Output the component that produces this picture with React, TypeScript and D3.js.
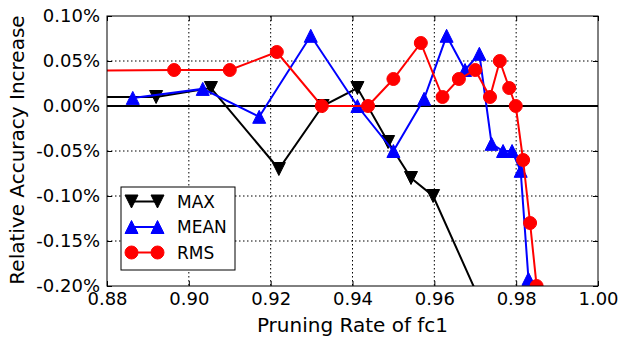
import { useEffect, useRef } from 'react'
import * as d3 from 'd3'

// pruning rate of fc1 (x) and relative accuracy increase in % (y)
const maxRate = [0.87, 0.892, 0.9054, 0.922, 0.9327, 0.9412, 0.9487, 0.9543, 0.9597, 0.9745]
const maxGain = [0.01, 0.01, 0.02, -0.07, 0.0, 0.02, -0.04, -0.08, -0.10, -0.25]

const meanRate = [0.8863, 0.9034, 0.9172, 0.9298, 0.9412, 0.95, 0.9575, 0.963, 0.9675, 0.971, 0.974, 0.9768, 0.979, 0.9811, 0.983]
const meanGain = [0.009, 0.019, -0.012, 0.078, 0.0, -0.05, 0.008, 0.078, 0.04, 0.058, -0.042, -0.05, -0.05, -0.072, -0.192]

const rmsRate = [0.87, 0.8964, 0.91, 0.9215, 0.9325, 0.9438, 0.95, 0.9567, 0.962, 0.966, 0.97, 0.9736, 0.976, 0.9783, 0.9799, 0.9817, 0.9834, 0.985]
const rmsGain = [0.039, 0.04, 0.04, 0.06, 0.0, 0.0, 0.03, 0.07, 0.01, 0.03, 0.04, 0.01, 0.05, 0.02, 0.0, -0.06, -0.13, -0.20]

const xTicks = [0.88, 0.90, 0.92, 0.94, 0.96, 0.98, 1.00]
const yTicks = [0.10, 0.05, 0.0, -0.05, -0.10, -0.15, -0.20]

const seriesNames = ['MAX', 'MEAN', 'RMS']
const seriesColors = ['#000000', '#0000ff', '#ff0000']
const seriesMarkers = ['down', 'up', 'circle']

const W = 618
const H = 339
const FONT = 'DejaVu Sans, sans-serif'

function markerPath(kind: string, s: number) {
  const h = s / 2
  if (kind === 'down') return `M0,${h}L${-h},${-h}L${h},${-h}Z`
  if (kind === 'up') return `M0,${-h}L${-h},${h}L${h},${h}Z`
  return d3.symbol(d3.symbolCircle, Math.PI * h * h)() || ''
}

export default function App() {
  const svgRef = useRef<SVGSVGElement>(null)

  useEffect(() => {
    document.body.style.margin = '0'
    if (!svgRef.current) return
    const svg = d3.select(svgRef.current)
    svg.selectAll('*').remove()

    const margin = { top: 16, right: 20, bottom: 53, left: 107 }
    const innerW = W - margin.left - margin.right
    const innerH = H - margin.top - margin.bottom

    const x = d3.scaleLinear().domain([0.88, 1.0]).range([0, innerW])
    const y = d3.scaleLinear().domain([-0.20, 0.10]).range([innerH, 0])

    const g = svg.append('g').attr('transform', `translate(${margin.left},${margin.top})`)

    g.append('clipPath').attr('id', 'plot-clip')
      .append('rect').attr('width', innerW).attr('height', innerH)

    // grid
    g.selectAll('.vgrid')
      .data(xTicks.slice(1, -1))
      .enter().append('line')
      .attr('x1', d => x(d)).attr('x2', d => x(d))
      .attr('y1', 0).attr('y2', innerH)
      .attr('stroke', '#000').attr('stroke-width', 1)
      .attr('stroke-dasharray', '1.5,2.5')
    g.selectAll('.hgrid')
      .data(yTicks.slice(1, -1))
      .enter().append('line')
      .attr('y1', d => y(d)).attr('y2', d => y(d))
      .attr('x1', 0).attr('x2', innerW)
      .attr('stroke', '#000').attr('stroke-width', 1)
      .attr('stroke-dasharray', '1.5,2.5')

    // axes (ticks pointing inward)
    const fmt = (d: d3.NumberValue) => (+d).toFixed(2) + '%'
    const xAxis = g.append('g').attr('transform', `translate(0,${innerH})`)
      .call(d3.axisBottom(x).tickValues(xTicks).tickFormat(d => (+d).toFixed(2)).tickSize(-5).tickPadding(6))
    const yAxis = g.append('g')
      .call(d3.axisLeft(y).tickValues(yTicks).tickFormat(fmt).tickSize(-5).tickPadding(7))
    const topAxis = g.append('g')
      .call(d3.axisTop(x).tickValues(xTicks).tickFormat(() => '').tickSize(-5))
    const rightAxis = g.append('g').attr('transform', `translate(${innerW},0)`)
      .call(d3.axisRight(y).tickValues(yTicks).tickFormat(() => '').tickSize(-5))
    for (const a of [xAxis, yAxis, topAxis, rightAxis]) {
      a.select('.domain').remove()
      a.selectAll('line').attr('stroke', '#000')
      a.selectAll('text').attr('font-family', FONT).attr('font-size', 18).attr('fill', '#000')
    }

    // zero line
    g.append('line')
      .attr('x1', 0).attr('x2', innerW)
      .attr('y1', y(0)).attr('y2', y(0))
      .attr('stroke', '#000').attr('stroke-width', 2)

    const series = [
      { rate: maxRate, gain: maxGain },
      { rate: meanRate, gain: meanGain },
      { rate: rmsRate, gain: rmsGain },
    ]

    const plot = g.append('g').attr('clip-path', 'url(#plot-clip)')
    const line = d3.line<[number, number]>().x(d => x(d[0])).y(d => y(d[1]))

    series.forEach((s, i) => {
      const pts = s.rate.map((r, j) => [r, s.gain[j]] as [number, number])
      plot.append('path')
        .datum(pts)
        .attr('fill', 'none')
        .attr('stroke', seriesColors[i])
        .attr('stroke-width', 2)
        .attr('d', line)
      plot.selectAll(`.m${i}`)
        .data(pts)
        .enter().append('path')
        .attr('transform', d => `translate(${x(d[0])},${y(d[1])})`)
        .attr('d', markerPath(seriesMarkers[i], 13))
        .attr('fill', seriesColors[i])
        .attr('stroke', seriesColors[i])
        .attr('stroke-width', 1)
    })

    // frame
    g.append('rect')
      .attr('width', innerW).attr('height', innerH)
      .attr('fill', 'none').attr('stroke', '#000').attr('stroke-width', 1)

    // legend
    const lg = svg.append('g').attr('transform', 'translate(121,187)')
    lg.append('rect').attr('width', 114).attr('height', 83)
      .attr('fill', '#fff').attr('stroke', '#000').attr('stroke-width', 1)
    seriesNames.forEach((name, i) => {
      const ry = 14.5 + i * 25.5
      lg.append('line').attr('x1', 10.5).attr('x2', 36.5).attr('y1', ry).attr('y2', ry)
        .attr('stroke', seriesColors[i]).attr('stroke-width', 2)
      for (const mx of [10.5, 36.5]) {
        lg.append('path')
          .attr('transform', `translate(${mx},${ry})`)
          .attr('d', markerPath(seriesMarkers[i], 13))
          .attr('fill', seriesColors[i]).attr('stroke', seriesColors[i])
      }
      lg.append('text').attr('x', 56).attr('y', ry).attr('dy', '0.36em')
        .attr('font-family', FONT).attr('font-size', 17).text(name)
    })

    // axis titles
    svg.append('text')
      .attr('x', margin.left + innerW / 2).attr('y', 332)
      .attr('text-anchor', 'middle')
      .attr('font-family', FONT).attr('font-size', 20)
      .text('Pruning Rate of fc1')
    svg.append('text')
      .attr('transform', `translate(24,${margin.top + innerH / 2 - 1}) rotate(-90)`)
      .attr('text-anchor', 'middle')
      .attr('font-family', FONT).attr('font-size', 20)
      .text('Relative Accuracy Increase')
  }, [])

  return <svg ref={svgRef} width={W} height={H} style={{ display: 'block', background: '#fff' }} />
}
